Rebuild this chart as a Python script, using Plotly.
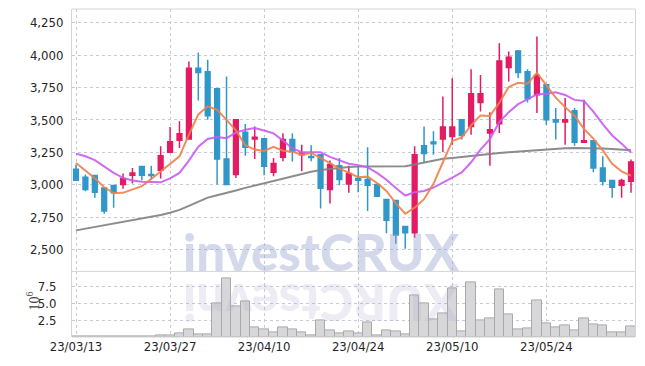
import plotly.graph_objects as go

# ---------------- data ----------------
dates = [
    "2023-03-13", "2023-03-14", "2023-03-15", "2023-03-16", "2023-03-17",
    "2023-03-20", "2023-03-21", "2023-03-22", "2023-03-23", "2023-03-24",
    "2023-03-27", "2023-03-28", "2023-03-29", "2023-03-30", "2023-03-31",
    "2023-04-03", "2023-04-04", "2023-04-05", "2023-04-06", "2023-04-07",
    "2023-04-10", "2023-04-11", "2023-04-12", "2023-04-13", "2023-04-14",
    "2023-04-17", "2023-04-18", "2023-04-19", "2023-04-20", "2023-04-21",
    "2023-04-24", "2023-04-25", "2023-04-26", "2023-04-27", "2023-04-28",
    "2023-05-02", "2023-05-03", "2023-05-04", "2023-05-08", "2023-05-09",
    "2023-05-10", "2023-05-11", "2023-05-12", "2023-05-15", "2023-05-16",
    "2023-05-17", "2023-05-18", "2023-05-19", "2023-05-22", "2023-05-23",
    "2023-05-24", "2023-05-25", "2023-05-26", "2023-05-30", "2023-05-31",
    "2023-06-01", "2023-06-02", "2023-06-05", "2023-06-07", "2023-06-08",
]
opens = [3120, 3058, 3070, 2975, 2993, 3001, 3073, 3140, 3078, 3111,
         3250, 3343, 3353, 3900, 3872, 3741, 3199, 3078, 3404, 3353,
         3355, 3096, 3212, 3348, 3232, 3217, 3232, 2963, 3147, 3006,
         3047, 3040, 3001, 2885, 2878, 2677, 2629, 3301, 3330, 3353,
         3373, 3502, 3450, 3635, 3399, 3471, 3905, 4033, 3872, 3694,
         3771, 3502, 3484, 3571, 3327, 3340, 3129, 3032, 2996, 3027]
highs = [3155, 3078, 3072, 2978, 2995, 3086, 3129, 3142, 3147, 3296,
         3445, 3489, 3951, 4021, 3964, 3745, 3836, 3505, 3468, 3450,
         3358, 3206, 3397, 3397, 3309, 3304, 3235, 3186, 3206, 3147,
         3147, 3289, 3010, 2888, 2880, 2680, 3296, 3450, 3412, 3682,
         3823, 3505, 3892, 3848, 3560, 4092, 4028, 4041, 3892, 4144,
         3775, 3592, 3669, 3592, 3656, 3342, 3219, 3035, 3045, 3194]
lows = [3030, 2950, 2898, 2775, 2821, 2968, 3009, 3034, 3039, 3047,
        3245, 3284, 3348, 3651, 3502, 3001, 2998, 3052, 3224, 3199,
        3073, 3065, 3181, 3178, 3104, 3181, 2816, 2855, 2996, 2937,
        2942, 2796, 2908, 2624, 2544, 2505, 2590, 3168, 3232, 3250,
        3309, 3348, 3386, 3566, 3147, 3399, 3797, 3823, 3635, 3553,
        3463, 3348, 3309, 3301, 3325, 3096, 2993, 2898, 2898, 2937]
closes = [3035, 2963, 2942, 2796, 2937, 3047, 3091, 3073, 3070, 3224,
          3332, 3394, 3900, 3866, 3533, 3199, 3001, 3502, 3289, 3366,
          3142, 3163, 3348, 3258, 3245, 3209, 2973, 3155, 3040, 3086,
          3034, 2996, 2911, 2726, 2611, 2629, 3232, 3240, 3317, 3445,
          3445, 3379, 3702, 3702, 3425, 3956, 3985, 3866, 3664, 3843,
          3502, 3484, 3502, 3327, 3340, 3129, 3027, 2981, 3032, 3176]
volumes_m = [0.12, 0.05, 0.05, 0.15, 0.05, 0.12, 0.05, 0.12, 0.15, 0.25,
             0.3, 0.5, 1.2, 0.45, 0.45, 5.05, 8.75, 4.55, 5.3, 1.4,
             1.1, 0.65, 1.4, 1.1, 0.65, 0.3, 2.5, 0.95, 0.5, 0.8,
             0.5, 2.15, 0.25, 0.95, 0.85, 0.4, 6.25, 5.05, 2.6, 3.5,
             7.25, 0.8, 8.15, 2.45, 2.75, 7.1, 3.4, 1.1, 1.3, 5.5,
             2.0, 1.4, 1.7, 0.95, 2.75, 1.9, 1.7, 0.65, 0.65, 1.55]
ma5 = [3168, 3110, 3050, 2980, 2935, 2937, 2963, 2989, 3044, 3101,
       3158, 3219, 3384, 3543, 3605, 3578, 3500, 3420, 3305, 3271,
       3260, 3292, 3262, 3255, 3231, 3245, 3207, 3168, 3124, 3093,
       3058, 3062, 3013, 2951, 2856, 2775, 2822, 2888, 3006, 3173,
       3336, 3365, 3458, 3535, 3531, 3633, 3754, 3787, 3779, 3863,
       3772, 3672, 3599, 3532, 3431, 3356, 3265, 3161, 3102, 3069]
ma10 = [3240, 3219, 3189, 3137, 3091, 3052, 3032, 3022, 3019, 3018,
        3048, 3091, 3186, 3293, 3353, 3368, 3359, 3402, 3424, 3438,
        3419, 3396, 3341, 3280, 3251, 3252, 3250, 3215, 3190, 3162,
        3151, 3134, 3091, 3038, 2974, 2916, 2942, 2951, 2978, 3014,
        3055, 3094, 3173, 3270, 3352, 3484, 3560, 3622, 3657, 3697,
        3702, 3713, 3693, 3655, 3647, 3564, 3468, 3380, 3317, 3248]
ma_long = [2647, 2660, 2672, 2685, 2698, 2710, 2722, 2735, 2749, 2765,
           2783, 2805, 2836, 2870, 2900, 2918, 2935, 2955, 2975, 2993,
           3010, 3027, 3045, 3065, 3085, 3100, 3113, 3122, 3130, 3137,
           3140, 3141, 3142, 3142, 3142, 3143, 3155, 3170, 3190, 3200,
           3206, 3214, 3225, 3232, 3237, 3244, 3250, 3256, 3261, 3266,
           3274, 3278, 3282, 3284, 3284, 3283, 3280, 3275, 3270, 3266]
tick_dates = ["2023-03-13", "2023-03-27", "2023-04-10", "2023-04-24", "2023-05-10", "2023-05-24"]
tick_labels = ["23/03/13", "23/03/27", "23/04/10", "23/04/24", "23/05/10", "23/05/24"]
price_ticks = [2500, 2750, 3000, 3250, 3500, 3750, 4000, 4250]
volume_ticks = [2.5, 5.0, 7.5]

# ---------------- style ----------------
PINK = "#e31b63"
BLUE = "#3097c9"
ORANGE = "#f0804a"
PURPLE = "#c95cf0"
GREY = "#808080"
GRID = "#c6c9d9"
FRAME = "#d4d4d4"
TICKFAMILY = "DejaVu Sans Condensed, Liberation Sans Narrow, Roboto Condensed, Roboto, sans-serif"
TICKFONT = dict(family=TICKFAMILY, size=13, color="#262626")

fig = go.Figure()

fig.add_trace(go.Bar(
    x=dates, y=volumes_m, xaxis="x2", yaxis="y2",
    marker=dict(color="#d7d7da", line=dict(color="#a9a9a9", width=1)),
    showlegend=False, hoverinfo="skip",
))

fig.add_trace(go.Candlestick(
    x=dates, open=opens, high=highs, low=lows, close=closes,
    xaxis="x", yaxis="y",
    increasing=dict(line=dict(color=PINK, width=1.5), fillcolor=PINK),
    decreasing=dict(line=dict(color=BLUE, width=1.5), fillcolor=BLUE),
    whiskerwidth=0, showlegend=False,
))

for vals, col in ((ma_long, GREY), (ma10, PURPLE), (ma5, ORANGE)):
    fig.add_trace(go.Scatter(
        x=dates, y=vals, xaxis="x", yaxis="y", mode="lines",
        line=dict(color=col, width=2), opacity=0.9, showlegend=False,
    ))

common_x = dict(
    type="category", range=[-0.425, 59.425],
    tickmode="array", tickvals=tick_dates, ticktext=tick_labels,
    showgrid=True, gridcolor=GRID, griddash="dot", gridwidth=1,
    showline=False, ticks="", fixedrange=True, automargin=False,
)

# the page body adds an 8px offset, so margins are shifted to compensate
fig.update_layout(
    width=645, height=366,
    margin=dict(l=64, r=18, t=1, b=37),
    paper_bgcolor="white", plot_bgcolor="white",
    boxgap=0.28,
    bargap=0,
    xaxis=dict(common_x, anchor="y", showticklabels=False,
               rangeslider=dict(visible=False)),
    xaxis2=dict(common_x, anchor="y2", matches="x", showticklabels=True,
                tickfont=TICKFONT),
    yaxis=dict(
        domain=[0.2, 1], range=[2330, 4357], anchor="x",
        tickmode="array", tickvals=price_ticks, tickformat=",d",
        showgrid=True, gridcolor=GRID, griddash="dot", gridwidth=1,
        showline=True, mirror=True, linecolor=FRAME, linewidth=1,
        ticks="outside", ticklen=5, tickcolor="rgba(0,0,0,0)",
        tickfont=TICKFONT, zeroline=False, automargin=False,
    ),
    yaxis2=dict(
        domain=[0, 0.2], range=[0, 9.75], anchor="x2",
        tickmode="array", tickvals=volume_ticks, tickformat=".1f",
        showgrid=True, gridcolor=GRID, griddash="dot", gridwidth=1,
        showline=True, mirror=True, linecolor=FRAME, linewidth=1,
        ticks="outside", ticklen=12, tickcolor="rgba(0,0,0,0)",
        tickfont=TICKFONT, zeroline=False, automargin=False,
    ),
)

# frame lines: top, panel divider, bottom
for yy in (1.0, 0.2, 0.0):
    fig.add_shape(type="line", xref="paper", yref="paper", x0=0, x1=1, y0=yy, y1=yy,
                  line=dict(color=FRAME, width=1), layer="above")

# watermark and its reflection
fig.add_annotation(
    text="investCRUX", xref="paper", yref="paper", x=0.443, y=0.26,
    xanchor="center", yanchor="middle", showarrow=False,
    font=dict(family="Lato", size=51, color="rgba(150,165,205,0.42)", weight=900),
)
fig.add_annotation(
    text="XURCtsevni", xref="paper", yref="paper", x=0.443, y=0.10,
    xanchor="center", yanchor="middle", showarrow=False, textangle=180,
    font=dict(family="Lato", size=51, color="rgba(175,170,205,0.22)", weight=900),
)
# exponent label of the volume axis
fig.add_annotation(
    text="10<sup>6</sup>", xref="paper", yref="paper", x=-0.07, y=0.11,
    xanchor="center", yanchor="middle", showarrow=False, textangle=-90,
    font=dict(family="Liberation Serif", size=14, color="#444444"),
)

fig.write_html("out.html")
